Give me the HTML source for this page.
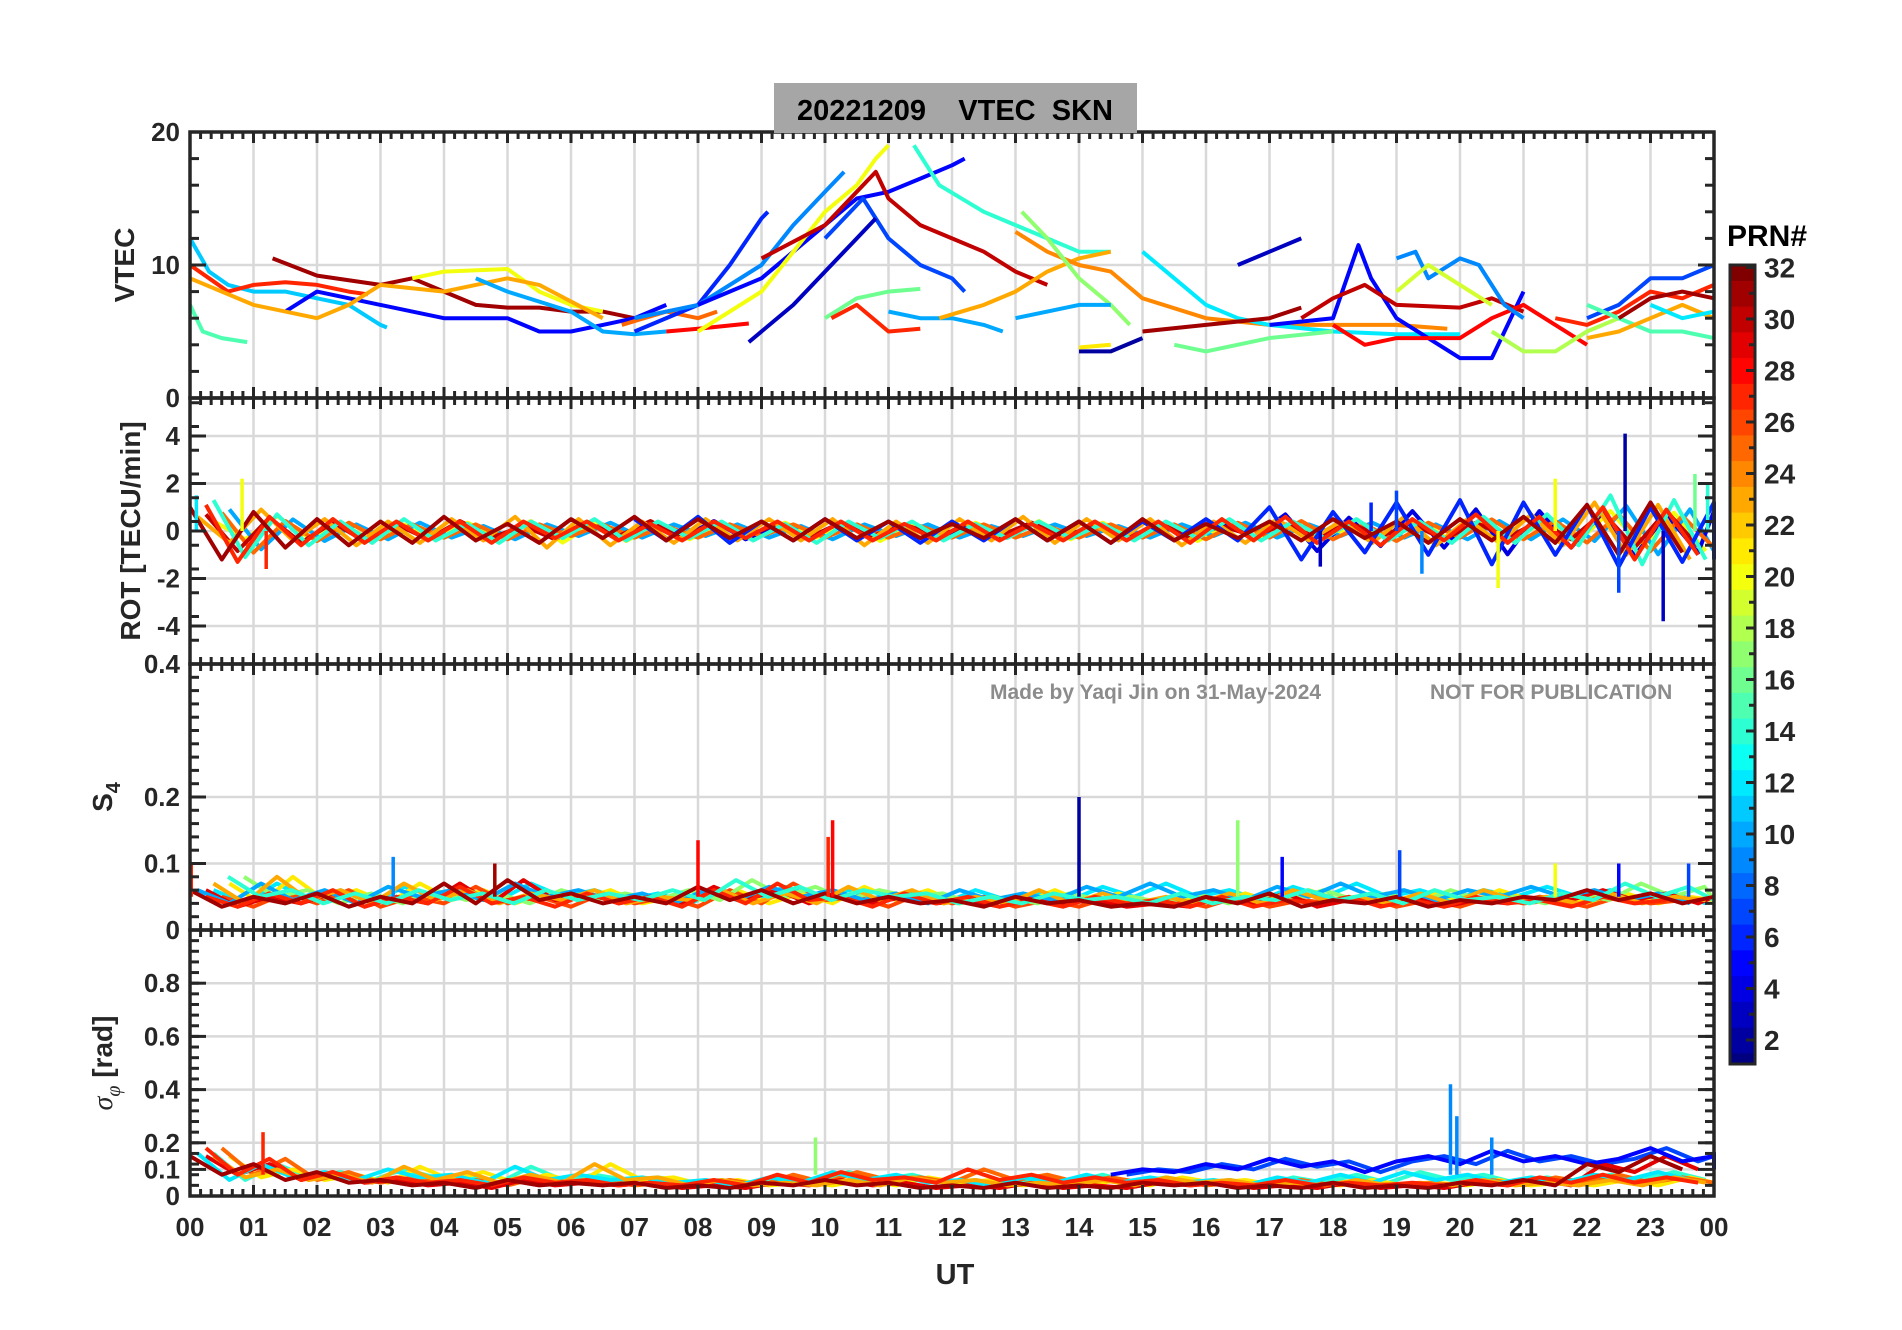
<!DOCTYPE html>
<html><head><meta charset="utf-8"><style>
html,body{margin:0;padding:0;background:#fff;}
svg{display:block;font-family:"Liberation Sans",Arial,sans-serif;}
</style></head><body>
<svg id="chart" width="1902" height="1330" viewBox="0 0 1902 1330" xmlns="http://www.w3.org/2000/svg">
<rect width="1902" height="1330" fill="#fff"/>
<g id="grid"></g>
<g id="marks"></g>
<g id="axes"></g>
<rect x="774" y="83" width="363" height="50" fill="#a6a6a6"/>
<text x="955" y="120" text-anchor="middle" font-size="29" font-weight="bold" fill="#000" xml:space="preserve">20221209    VTEC  SKN</text>
<text transform="translate(134,265) rotate(-90)" text-anchor="middle" font-size="28" font-weight="bold" fill="#262626">VTEC</text>
<text transform="translate(140,531) rotate(-90)" text-anchor="middle" font-size="28" font-weight="bold" fill="#262626">ROT [TECU/min]</text>
<text transform="translate(112,797) rotate(-90)" text-anchor="middle" font-size="28" font-weight="bold" fill="#262626">S<tspan font-size="20" dy="8">4</tspan></text>
<text transform="translate(112,1063) rotate(-90)" text-anchor="middle" font-size="28" font-weight="bold" fill="#262626"><tspan font-family="Liberation Serif,serif" font-style="italic" font-weight="normal">σ</tspan><tspan font-family="Liberation Serif,serif" font-style="italic" font-weight="normal" font-size="20" dy="8">φ</tspan><tspan dy="-8"> [rad]</tspan></text>
<text x="990" y="699" font-size="21" font-weight="bold" fill="#8c8c8c">Made by Yaqi Jin on 31-May-2024</text>
<text x="1430" y="699" font-size="21" font-weight="bold" fill="#8c8c8c">NOT FOR PUBLICATION</text>
<text x="955" y="1284" text-anchor="middle" font-size="29" font-weight="bold" fill="#262626">UT</text>
<text x="1727" y="246" font-size="30" font-weight="bold" fill="#000">PRN#</text>
<g id="cbar"></g>
</svg>
<script>
// ---------- data ----------
const hourLabels=["00","01","02","03","04","05","06","07","08","09","10","11","12","13","14","15","16","17","18","19","20","21","22","23","00"];
const vtecTicks=[0,10,20];
const rotTicks=[-4,-2,0,2,4];
const s4Ticks=[0,0.1,0.2];
const s4TopLabel=[0.4];
const sigTicks=[0,0.1,0.2,0.4,0.6,0.8];
const cbarTicks=[2,4,6,8,10,12,14,16,18,20,22,24,26,28,30,32];
const vtecPrn=[11,27,15,31,5,20,23,10,25,28,6,9,5,20,30,14,7,3,16,27,10,23,24,17,12,10,2,21,31,16,3,5,30,28,9,19,18,7,27,15,23,12,31];
const vtecArcs=[
[[0,12],[0.3,9.5],[0.6,8.5],[1,8],[1.5,8],[2,7.5],[2.5,7],[3,5.5],[3.1,5.3]],
[[0,10],[0.3,9],[0.6,8],[1,8.5],[1.5,8.7],[2,8.5],[2.5,8],[2.8,7.8]],
[[0,7],[0.2,5],[0.5,4.5],[0.9,4.2]],
[[1.3,10.5],[2,9.2],[3,8.5],[3.5,9],[4,8],[4.5,7],[5,6.8],[5.5,6.8],[6,6.5],[6.5,6.5],[7,6]],
[[1.5,6.5],[2,8],[3,7],[4,6],[5,6],[5.5,5],[6,5],[6.5,5.5],[7,6],[7.5,7]],
[[3.5,9],[4,9.5],[5,9.7],[5.5,8],[6,7],[6.5,6.5]],
[[0,9],[1,7],[2,6],[2.5,7],[3,8.5],[4,8],[5,9],[5.5,8.5],[6.5,6]],
[[4.5,9],[5,8],[6,6.5],[6.5,5],[7,4.8],[7.5,5]],
[[6.8,5.5],[7.5,6.5],[8,6],[8.3,6.5]],
[[7.5,5],[8,5.2],[8.8,5.6]],
[[7,5],[8,7],[8.5,10],[9,13.5],[9.1,14]],
[[7,6],[8,7],[9,10],[9.5,13],[10,15.5],[10.3,17]],
[[8,7],[9,9],[10,13],[10.5,15],[11,15.5],[11.5,16.5],[12,17.5],[12.2,18]],
[[8,5],[9,8],[9.5,11],[10,14],[10.5,16],[10.8,18],[11,19]],
[[9,10.5],[10,13],[10.5,15.5],[10.8,17],[11,15],[11.5,13],[12,12],[12.5,11],[13,9.5],[13.5,8.5]],
[[11.4,19],[11.8,16],[12.5,14],[13,13],[13.5,12],[14,11],[14.5,11]],
[[10,12],[10.6,15],[11,12],[11.5,10],[12,9],[12.2,8]],
[[8.8,4.2],[9.5,7],[10,9.5],[10.5,12],[10.8,13.5]],
[[10,6],[10.5,7.5],[11,8],[11.5,8.2]],
[[10.1,6],[10.5,7],[11,5],[11.5,5.2]],
[[11,6.5],[11.5,6],[12,6],[12.5,5.5],[12.8,5]],
[[11.8,6],[12.5,7],[13,8],[13.5,9.5],[14,10.5],[14.5,11]],
[[13,12.5],[13.5,11],[14,10],[14.5,9.5],[15,7.5],[16,6],[17,5.5],[18,5.5],[19,5.5],[19.8,5.2]],
[[13.1,14],[13.5,12],[14,9],[14.5,7],[14.8,5.5]],
[[15,11],[15.5,9],[16,7],[16.5,6],[17,5.5],[18,5],[19,4.8],[20,4.8]],
[[13,6],[13.5,6.5],[14,7],[14.5,7]],
[[14,3.5],[14.5,3.5],[15,4.5]],
[[14,3.8],[14.5,4]],
[[15,5],[16,5.5],[17,6],[17.5,6.8]],
[[15.5,4],[16,3.5],[17,4.5],[18,5]],
[[16.5,10],[17,11],[17.5,12]],
[[17,5.5],[18,6],[18.4,11.5],[18.6,9],[19,6],[20,3],[20.5,3],[20.7,5],[21,8]],
[[17.5,6],[18,7.5],[18.5,8.5],[19,7],[20,6.8],[20.5,7.5],[21,6.5]],
[[18,5.5],[18.5,4],[19,4.5],[20,4.5],[20.5,6],[21,7],[21.5,5.5],[22,4]],
[[19,10.5],[19.3,11],[19.5,9],[20,10.5],[20.3,10],[20.7,7],[21,6]],
[[19,8],[19.5,10],[20,8.5],[20.5,7]],
[[20.5,5],[21,3.5],[21.5,3.5],[22,5],[22.5,6]],
[[22,6],[22.5,7],[23,9],[23.5,9],[24,10]],
[[21.5,6],[22,5.5],[22.5,6.5],[23,8],[23.5,7.5],[24,8.5]],
[[22,7],[23,5],[23.5,5],[24,4.5]],
[[22,4.5],[22.5,5],[23,6],[23.5,7],[24,6]],
[[23,7],[23.5,6],[24,6.5]],
[[22.5,6],[23,7.5],[23.5,8],[24,7.5]]
];
// ROT series (0.5 h step)
const rotPrn=[23,14,6,27,31];
const rotPrn2=[20,10,4,25,30];
const rotStart=[0.12,0.37,7.0,0.25,0];
const rotA=[1.0,-1.2,0.8,-0.7,0.5,-0.6,0.4,-0.5,0.6,-0.4,0.3,-0.5,0.5,-0.3,0.6,-0.4,0.5,-0.3,0.4,-0.4,0.5,-0.3,0.4,-0.3,0.3,-0.3,0.5,-0.4,0.4,-0.5,0.5,-0.4,0.3,-0.3,0.4,-0.4,0.5,-0.3,0.4,-0.5,0.5,-0.4,0.6,-0.5,1.1,-1.0,1.2,-0.9];
const rotB=[1.1,-1.3,0.6,-0.6,0.5,-0.5,0.4,-0.4,0.4,-0.5,0.4,-0.3,0.4,-0.4,0.3,-0.4,0.4,-0.3,0.4,-0.4,0.4,-0.4,0.3,-0.4,0.4,-0.4,0.3,-0.4,0.4,-0.4,0.4,-0.5,0.5,-0.4,0.6,-0.5,0.4,-0.6,0.5,-0.4,0.7,-0.5,0.6,-0.7,1.0,-1.2,0.9,-1.0];
const rotC=[0.6,-0.5,0.9,-0.4,0.5,-0.6,0.4,-0.5,0.5,-0.4,0.6,-0.7,0.5,-0.6,0.4,-0.5,0.5,-0.4,0.5,-0.4,0.5,-0.6,0.4,-0.5,0.5,-0.4,0.6,-0.5,0.5,-0.4,0.5,-0.6,0.4,-0.5,0.5,-0.4,0.4,-0.5,0.6,-0.6,0.5,-0.5,0.7,-0.6,1.2,-1.0,1.1,-1.2];
const rotD=[1.3,-1.1,0.7,-0.6,0.4,-0.5,0.5,-0.4,0.3,-0.5,0.4,-0.3,0.5,-0.4,0.4,-0.3,0.4,-0.4,0.3,-0.5,0.4,-0.3,0.4,-0.4,0.3,-0.3,0.4,-0.3,0.3,-0.4,0.4,-0.3,0.5,-0.4,0.4,-0.3,0.5,-0.4,0.4,-0.5,0.6,-0.5,0.7,-0.6,1.5,-1.4,1.3,-1.2];
const rotE=[0.5,-0.4,0.6,-0.5,0.4,-0.4,0.5,-0.4,0.4,-0.5,0.4,-0.4,0.5,-0.4,0.4,-0.5,0.4,-0.4,0.5,-0.4,1.0,-1.2,0.8,-0.9,1.2,-1.0,1.3,-1.4,1.2,-1.0,1.1,-1.5,1.0,-1.3,1.2,-1.2];
const rotSpikeH=[0.82,0.1,1.2,17.8,18.6,19.0,19.4,20.6,21.5,22.5,22.6,23.2,23.7,23.9];
const rotSpikeV=[2.2,1.5,-1.6,-1.5,1.2,1.7,-1.8,-2.4,2.2,-2.6,4.1,-3.8,2.4,2.0];
const rotSpikePrn=[20,12,27,3,6,7,9,20,20,7,2,3,16,14];
// S4 series
const s4Prn=[10,23,27,14,31];
const s4Prn2=[12,21,26,17,29];
const s4Start=[0.12,0.37,0.25,0.6,0];
const s4A=[0.06,0.04,0.07,0.045,0.06,0.04,0.065,0.05,0.06,0.045,0.07,0.05,0.06,0.045,0.055,0.04,0.06,0.045,0.065,0.05,0.06,0.045,0.055,0.04,0.06,0.045,0.055,0.045,0.065,0.05,0.07,0.05,0.06,0.045,0.065,0.05,0.07,0.05,0.06,0.045,0.06,0.05,0.065,0.05,0.06,0.045,0.055,0.04];
const s4B=[0.07,0.04,0.08,0.045,0.06,0.04,0.07,0.045,0.06,0.04,0.055,0.045,0.06,0.04,0.05,0.045,0.06,0.04,0.055,0.04,0.065,0.045,0.06,0.04,0.05,0.04,0.06,0.04,0.055,0.04,0.05,0.04,0.055,0.04,0.06,0.045,0.05,0.04,0.055,0.04,0.06,0.045,0.05,0.04,0.055,0.04,0.05,0.045];
const s4C=[0.08,0.05,0.06,0.04,0.055,0.04,0.06,0.045,0.055,0.04,0.06,0.045,0.055,0.045,0.06,0.045,0.075,0.05,0.065,0.045,0.06,0.05,0.055,0.04,0.05,0.04,0.055,0.045,0.05,0.04,0.055,0.04,0.05,0.045,0.06,0.045,0.055,0.04,0.06,0.045,0.05,0.04,0.055,0.045,0.07,0.05,0.065,0.045];
const s4D=[0.05,0.035,0.055,0.04,0.06,0.035,0.05,0.04,0.065,0.04,0.05,0.035,0.055,0.04,0.05,0.035,0.06,0.04,0.07,0.045,0.05,0.035,0.055,0.04,0.05,0.035,0.045,0.035,0.05,0.04,0.045,0.035,0.05,0.035,0.045,0.04,0.05,0.035,0.045,0.035,0.05,0.04,0.045,0.035,0.05,0.04,0.045];
const s4E=[0.06,0.035,0.05,0.04,0.055,0.035,0.05,0.04,0.07,0.04,0.075,0.045,0.055,0.04,0.05,0.04,0.065,0.045,0.06,0.04,0.055,0.04,0.05,0.04,0.045,0.035,0.05,0.04,0.045,0.035,0.04,0.035,0.05,0.04,0.055,0.035,0.045,0.04,0.05,0.035,0.045,0.04,0.05,0.045,0.06,0.045,0.055,0.04,0.05];
const s4SpikeH=[0.02,3.2,4.8,8.0,10.05,10.12,14.0,16.5,17.2,19.05,21.5,22.5,23.6];
const s4SpikeV=[0.1,0.11,0.1,0.135,0.14,0.165,0.2,0.165,0.11,0.12,0.1,0.1,0.1];
const s4SpikePrn=[27,9,31,28,27,28,2,17,5,7,20,5,7];
// sigma-phi series
const sigPrn=[12,23,27,5,31];
const sigPrn2=[14,21,25,7,29];
const sigStart=[0.12,0.37,0.25,14.5,0];
const sigA=[0.16,0.06,0.12,0.07,0.09,0.06,0.1,0.07,0.08,0.05,0.11,0.06,0.08,0.06,0.07,0.05,0.06,0.04,0.07,0.05,0.09,0.06,0.08,0.05,0.06,0.04,0.07,0.05,0.08,0.05,0.07,0.05,0.06,0.04,0.07,0.05,0.08,0.05,0.09,0.06,0.08,0.05,0.07,0.05,0.08,0.06,0.09,0.06];
const sigB=[0.15,0.07,0.1,0.06,0.08,0.05,0.11,0.06,0.09,0.05,0.08,0.05,0.12,0.06,0.07,0.04,0.06,0.04,0.05,0.04,0.06,0.04,0.07,0.05,0.06,0.04,0.05,0.04,0.06,0.04,0.07,0.05,0.06,0.04,0.05,0.04,0.06,0.04,0.05,0.04,0.06,0.04,0.05,0.04,0.06,0.04,0.07,0.05];
const sigC=[0.18,0.08,0.14,0.06,0.09,0.05,0.07,0.05,0.06,0.04,0.07,0.05,0.06,0.04,0.05,0.04,0.06,0.04,0.08,0.05,0.09,0.06,0.07,0.05,0.1,0.06,0.08,0.05,0.07,0.05,0.06,0.04,0.05,0.04,0.06,0.04,0.05,0.04,0.05,0.04,0.06,0.04,0.07,0.05,0.08,0.05,0.07,0.05];
const sigD=[0.08,0.1,0.09,0.12,0.1,0.14,0.11,0.13,0.09,0.13,0.15,0.12,0.17,0.13,0.15,0.12,0.14,0.18,0.13,0.15,0.12,0.16,0.13,0.11,0.15,0.12,0.14,0.11,0.13,0.1];
const sigE=[0.15,0.08,0.12,0.06,0.09,0.05,0.06,0.04,0.05,0.03,0.06,0.04,0.05,0.04,0.05,0.03,0.04,0.03,0.05,0.04,0.06,0.04,0.05,0.03,0.04,0.03,0.05,0.03,0.04,0.03,0.05,0.04,0.05,0.03,0.04,0.03,0.05,0.03,0.04,0.03,0.05,0.04,0.06,0.04,0.12,0.09,0.15,0.1];
const sigSpikeH=[1.15,9.85,19.85,19.95,20.5];
const sigSpikeV=[0.24,0.22,0.42,0.3,0.22];
const sigSpikePrn=[27,17,9,9,9];

// ---------- layout ----------
const X0=190, X1=1714;
const panels=[{t:132,b:398,min:0,max:20},{t:398,b:664,min:-5.6,max:5.6},{t:664,b:930,min:0,max:0.4},{t:930,b:1196,min:0,max:1}];
const NS='http://www.w3.org/2000/svg';
function xS(h){return X0+(X1-X0)*h/24;}
function yS(p,v){const P=panels[p];return P.b-(v-P.min)/(P.max-P.min)*(P.b-P.t);}
function jet(prn){const v=(prn-1)/31;const c=t=>Math.round(255*Math.max(0,Math.min(1,1.5-Math.abs(4*v-t))));return `rgb(${c(3)},${c(2)},${c(1)})`;}
function mk(tag,parent){const e=document.createElementNS(NS,tag);parent.appendChild(e);return e;}
const G=document.getElementById('grid'),M=document.getElementById('marks'),A=document.getElementById('axes'),CB=document.getElementById('cbar');

for(let p=0;p<4;p++){
  for(let h=1;h<24;h++){const l=mk('line',G);l.setAttribute('x1',xS(h));l.setAttribute('x2',xS(h));l.setAttribute('y1',panels[p].t);l.setAttribute('y2',panels[p].b);l.setAttribute('stroke','#d9d9d9');l.setAttribute('stroke-width','2.5');
  
  }
  const tk=[vtecTicks,rotTicks,s4Ticks,sigTicks][p];
  tk.forEach(v=>{if(v===panels[p].min)return;const l=mk('line',G);l.setAttribute('x1',X0);l.setAttribute('x2',X1);l.setAttribute('y1',yS(p,v));l.setAttribute('y2',yS(p,v));l.setAttribute('stroke','#d9d9d9');l.setAttribute('stroke-width','2.5');
  
  });
}

function poly(pts,color,w,name){const e=mk('polyline',M);e.setAttribute('points',pts.map(q=>q[0].toFixed(1)+','+q[1].toFixed(1)).join(' '));e.setAttribute('fill','none');e.setAttribute('stroke',color);e.setAttribute('stroke-width',w);e.setAttribute('stroke-linejoin','round');
  
  }
vtecArcs.forEach((arc,i)=>{poly(arc.map(q=>[xS(q[0]),yS(0,q[1])]),jet(vtecPrn[i]),4,'vtec-arc-prn'+vtecPrn[i]);});
function zig(p,vals,start,prn,name,scale){poly(vals.map((v,i)=>[xS(Math.min(24,start+i*0.5)),yS(p,v*scale)]),jet(prn),4,name+'-prn'+prn);}
const rotS=[rotC,rotD,rotE,rotB,rotA];
rotS.forEach((s,i)=>zig(1,s,rotStart[i]+0.25,rotPrn2[i],'rot-series',0.7));
rotS.forEach((s,i)=>zig(1,s,rotStart[i],rotPrn[i],'rot-series',1));
const s4S=[s4A,s4B,s4D,s4C,s4E];
s4S.forEach((s,i)=>zig(2,s,s4Start[i]+0.25,s4Prn2[i],'s4-series',1));
s4S.forEach((s,i)=>zig(2,s,s4Start[i],s4Prn[i],'s4-series',1));
const sigS=[sigA,sigB,sigC,sigD,sigE];
sigS.forEach((s,i)=>zig(3,s,sigStart[i]+0.25,sigPrn2[i],'sigma-series',1));
sigS.forEach((s,i)=>zig(3,s,sigStart[i],sigPrn[i],'sigma-series',1));
function spikes(p,H,V,P,base,name){H.forEach((h,i)=>{const l=mk('line',M);l.setAttribute('x1',xS(h));l.setAttribute('x2',xS(h));l.setAttribute('y1',yS(p,base));l.setAttribute('y2',yS(p,V[i]));l.setAttribute('stroke',jet(P[i]));l.setAttribute('stroke-width','3.5');
  
  });}
spikes(1,rotSpikeH,rotSpikeV,rotSpikePrn,0,'rot-spike');
spikes(2,s4SpikeH,s4SpikeV,s4SpikePrn,0.05,'s4-spike');
spikes(3,sigSpikeH,sigSpikeV,sigSpikePrn,0.08,'sigma-spike');

const AX='#262626';
function ln(x1,y1,x2,y2,w,name){const l=mk('line',A);l.setAttribute('x1',x1);l.setAttribute('y1',y1);l.setAttribute('x2',x2);l.setAttribute('y2',y2);l.setAttribute('stroke',AX);l.setAttribute('stroke-width',w);
  
  }
function tx(x,y,s,anchor,size,name){const t=mk('text',A);t.setAttribute('x',x);t.setAttribute('y',y);t.setAttribute('text-anchor',anchor);t.setAttribute('font-size',size);t.setAttribute('font-weight','bold');t.setAttribute('fill',AX);t.textContent=s;
  
  }
for(let p=0;p<4;p++){
  const P=panels[p];
  for(let m=0;m<=144;m++){const x=xS(m/6);const L=(m%6===0)?11:7;ln(x,P.t,x,P.t+L,3,'x-tick');ln(x,P.b,x,P.b-L,3,'x-tick');}
  const minorStep=[2,1,0.02,0.04][p];
  for(let v=P.min;v<=P.max+1e-9;v+=minorStep){const y=yS(p,v);ln(X0,y,X0+9,y,3,'y-tick');ln(X1,y,X1-9,y,3,'y-tick');}
  const tk=[vtecTicks,rotTicks,s4Ticks,sigTicks][p];
  tk.forEach(v=>{const y=yS(p,v);ln(X0,y,X0+16,y,3,'y-major-tick');ln(X1,y,X1-16,y,3,'y-major-tick');tx(X0-10,y+9,String(v),'end',26,'y-tick-label');});
  const r=mk('rect',A);r.setAttribute('x',X0);r.setAttribute('y',P.t);r.setAttribute('width',X1-X0);r.setAttribute('height',P.b-P.t);r.setAttribute('fill','none');r.setAttribute('stroke',AX);r.setAttribute('stroke-width','3.5');
  
  
}
s4TopLabel.forEach(v=>tx(X0-10,yS(2,v)+9,String(v),'end',26,'y-tick-label'));
hourLabels.forEach((s,i)=>tx(xS(i),1236,s,'middle',26,'x-tick-label'));

const CY0=265,CY1=1064,CX0=1730,CX1=1755;
function cy(p){return 1040-(p-2)*25.75;}
for(let p=1;p<=32;p++){const r=mk('rect',CB);const yt=Math.max(CY0,cy(p+0.5)),yb=Math.min(CY1,cy(p-0.5));r.setAttribute('x',CX0);r.setAttribute('y',yt);r.setAttribute('width',CX1-CX0);r.setAttribute('height',yb-yt+0.5);r.setAttribute('fill',jet(p));
  
  }
for(let p=2;p<=32;p++){const y=cy(p);const L=(p%2===0)?9:6;const a=mk('line',CB);a.setAttribute('x1',CX1);a.setAttribute('x2',CX1-L);a.setAttribute('y1',y);a.setAttribute('y2',y);a.setAttribute('stroke',AX);a.setAttribute('stroke-width','3');
  
  }
cbarTicks.forEach(p=>{const t=mk('text',CB);t.setAttribute('x',1764);t.setAttribute('y',cy(p)+10);t.setAttribute('font-size','28');t.setAttribute('font-weight','bold');t.setAttribute('fill',AX);t.textContent=String(p);
  
  });
const cr=mk('rect',CB);cr.setAttribute('x',CX0);cr.setAttribute('y',CY0);cr.setAttribute('width',CX1-CX0);cr.setAttribute('height',CY1-CY0);cr.setAttribute('fill','none');cr.setAttribute('stroke',AX);cr.setAttribute('stroke-width','3');


</script>
</body></html>
